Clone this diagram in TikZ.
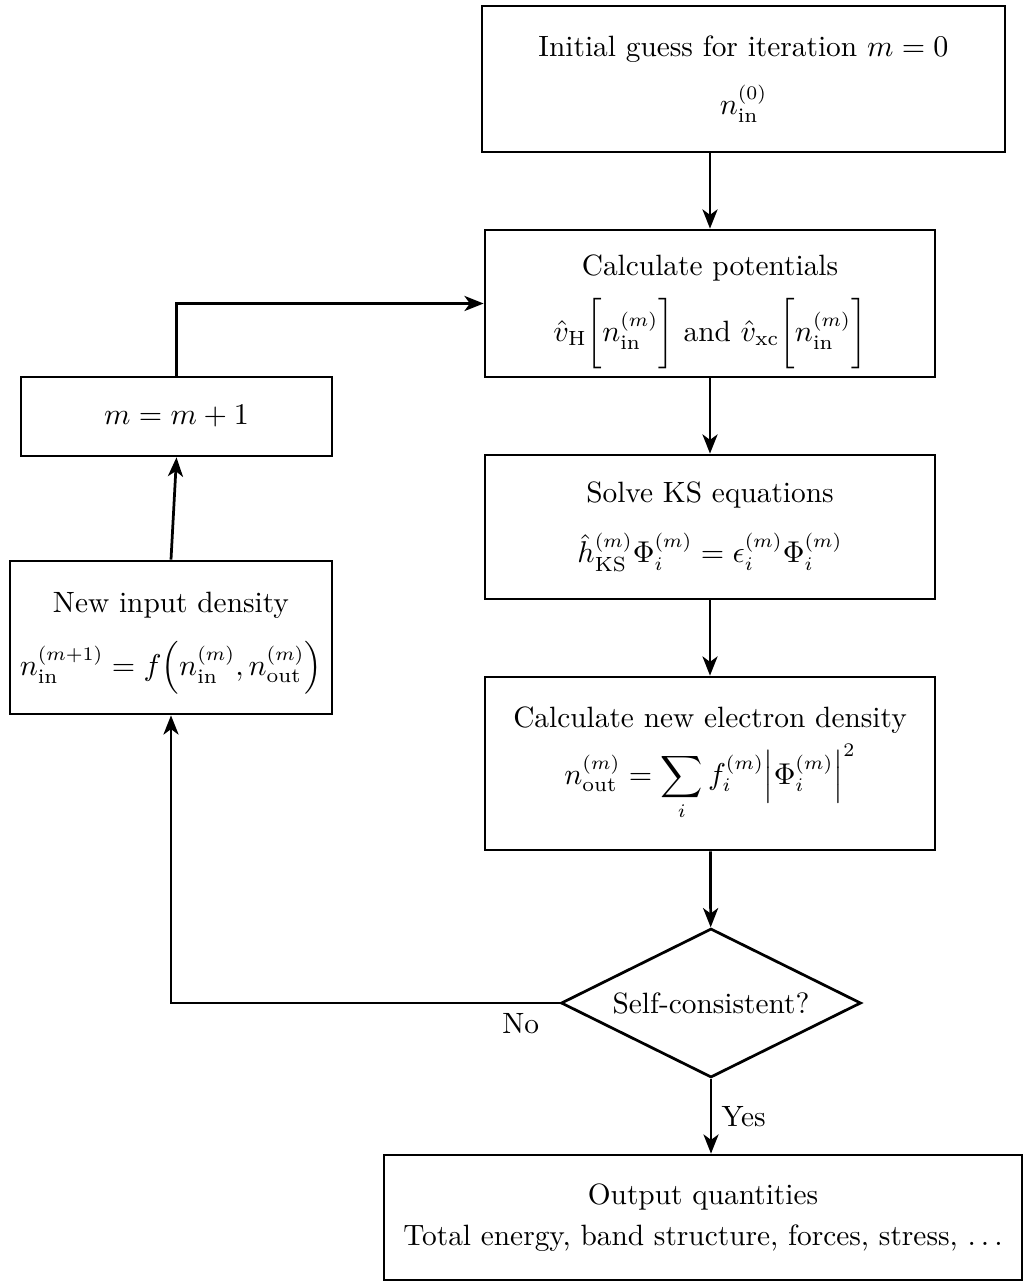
\documentclass[tikz,border=0pt]{standalone}
\usepackage{amsmath,amssymb}
\usepackage{tikz}
\usetikzlibrary{arrows.meta,shapes.geometric}

\begin{document}
\begin{tikzpicture}[x=0.0128cm,y=-0.0128cm,font=\fontsize{10.7}{13}\selectfont,
    box/.style={draw,line width=1pt,rectangle,align=center,inner sep=0pt},
    decision/.style={draw,line width=1pt,diamond,aspect=2,inner sep=0pt},
    flow/.style={line width=1pt,-{Stealth[length=7pt,width=5.5pt,inset=2pt]}}]
  \useasboundingbox (0,0) rectangle (1024,1282);
  % main column
  \node[box,minimum width=523*0.0128cm,minimum height=146*0.0128cm] (init) at (743.5,79)
     {Initial guess for iteration $m=0$\\[8pt] $n_{\text{in}}^{(0)}$};
  \node[box,minimum width=450*0.0128cm,minimum height=147*0.0128cm] (pot) at (710,303.5)
     {\rule{0pt}{14pt}Calculate potentials\\[5pt] $\hat{v}_{\text{H}}\biggl[n_{\text{in}}^{(m)}\biggr]$ and $\hat{v}_{\text{xc}}\biggl[n_{\text{in}}^{(m)}\biggr]$};
  \node[box,minimum width=450*0.0128cm,minimum height=144*0.0128cm] (ks) at (710,527)
     {Solve KS equations\\[9pt] $\hat{h}_{\text{KS}}^{(m)}\Phi_i^{(m)}=\epsilon_i^{(m)}\Phi_i^{(m)}$};
  \node[box,minimum width=450*0.0128cm,minimum height=173*0.0128cm] (dens) at (710,763.5)
     {Calculate new electron density\\[3pt] $\displaystyle n_{\text{out}}^{(m)}=\sum_i f_i^{(m)}\Bigl|\Phi_i^{(m)}\Bigr|^2$};
  \node[decision,minimum width=300*0.0128cm,minimum height=149*0.0128cm] (sc) at (711,1003)
     {Self-consistent?};
  \node[box,minimum width=638*0.0128cm,minimum height=125*0.0128cm] (out) at (703,1217.5)
     {Output quantities\\[2pt] Total energy, band structure, forces, stress, $\ldots$};
  % loop back
  \node[box,minimum width=311*0.0128cm,minimum height=79*0.0128cm] (incr) at (176.5,416.5)
     {$m=m+1$};
  \node[box,minimum width=322*0.0128cm,minimum height=153*0.0128cm] (newdens) at (171,637.5)
     {\rule{0pt}{12pt}New input density\\[7pt] $n_{\text{in}}^{(m+1)}=f\Bigl(n_{\text{in}}^{(m)},n_{\text{out}}^{(m)}\Bigr)$};

  \draw[flow] (pot.north |- init.south) -- (pot.north);
  \draw[flow] (pot) -- (ks);
  \draw[flow] (ks) -- (dens);
  \draw[flow] (dens) -- (sc);
  \draw[flow] (sc) -- node[right] {Yes} (sc.south |- out.north);
  \draw[flow] (sc.west) -| node[pos=0.05,below] {No} (newdens.south);
  \draw[flow] (newdens.north) -- (incr.south);
  \draw[flow] (incr.north) |- (pot.west);
\end{tikzpicture}
\end{document}
